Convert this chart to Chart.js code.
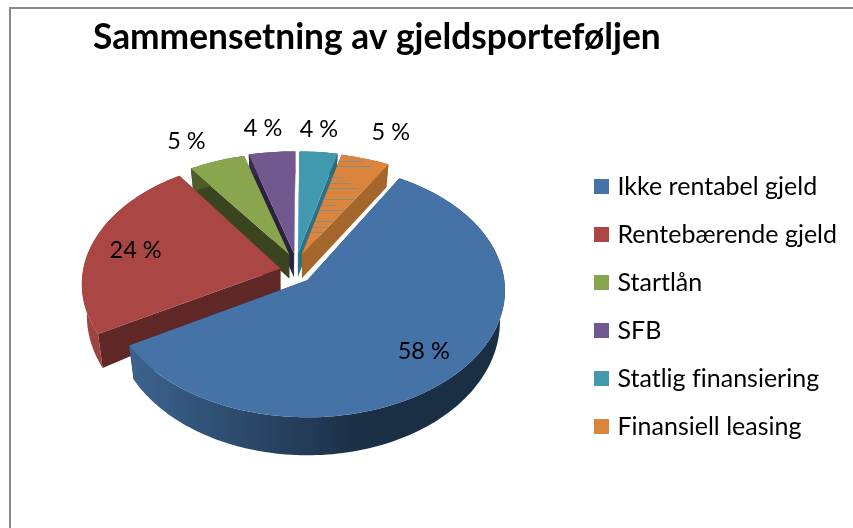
<!DOCTYPE html>
<html>
<head>
<meta charset="utf-8">
<style>
html,body{margin:0;padding:0;background:#fff;}
#wrap{position:relative;width:853px;height:528px;overflow:hidden;}
#edgeTop{position:absolute;left:10px;top:7px;right:0;height:2px;background:#8a8a8a;}
#edgeLeft{position:absolute;left:9px;top:7px;bottom:0;width:2px;background:#8a8a8a;}
canvas{position:absolute;left:0;top:0;}
</style>
<script src="https://cdn.jsdelivr.net/npm/chart.js@4"></script>
</head>
<body>
<div id="wrap">
<div id="edgeTop"></div><div id="edgeLeft"></div>
<canvas id="c" width="853" height="528"></canvas>
</div>
<script>
const categories = ['Ikke rentabel gjeld','Rentebærende gjeld','Startlån','SFB','Statlig finansiering','Finansiell leasing'];
const values = [58.4,23.7,5.3,4.4,3.6,4.6];
const sliceColors = ['#4572A7','#AA4643','#89A54E','#71588F','#4198AF','#DB843D'];
const wallColors = ['#1F3550','#5F2826','#3A4520','#2B2140','#2C7286','#A5662C'];
const rimLeft = ['#3F6794','#A04441','#5A6E30','#4A3A60','#2C6A7C','#A5662C'];
const rimRight = ['#1A2E44','#6A2D2B','#3A4520','#2B2140','#2C6A7C','#A5662C'];
const labelFactorX = [0.79,0.775,1.42,1.40,1.02,1.40];
const labelFactorY = [0.75,0.67,1.205,1.232,1.22,1.28];
const sliceRy = [126,124,118,118,118,118];
const slicePersp = [0.08,0.125,0.16,0.16,0.16,0.16];
const sliceDrop = [0,3,0,0,0,0];
const hatchIndex = 5;
const view = {cx:296, cy:269, rx:197, rimDepth:30, rimTilt:8, apexDepth:24, converge:0.975};

function pctLabel(v){ return Math.round(v) + ' %'; }

const pie3d = {
  id:'pie3d',
  beforeDraw(chart){ chart.ctx.textRendering='optimizeSpeed'; },
  afterLayout(chart){
    const lg = chart.legend;
    const w = lg.width, h = lg.height;
    lg.left = 575; lg.right = 575 + w; lg.top = 151; lg.bottom = 151 + h;
  },
  beforeDatasetDraw(chart,args){
    const ctx = chart.ctx;
    const arcs = args.meta.data;
    const slices = arcs.map((arc,i)=>{
      const p = arc.getProps(['startAngle','endAngle']);
      const a0 = p.startAngle + Math.PI/2, a1 = p.endAngle + Math.PI/2, mid = (a0+a1)/2;
      const off = arc.options.offset;
      return {i,a0,a1,mid,ax:view.cx+Math.sin(mid)*off,ay:view.cy-Math.cos(mid)*off+sliceDrop[i]};
    });
    const proj = (s,a,f)=>{
      const X=Math.sin(a)*f, Y=Math.cos(a)*f, w=1+slicePersp[s.i]*Y;
      return {x:s.ax+view.rx*X/w, y:s.ay-sliceRy[s.i]*Y/w};
    };
    const depth = a => view.rimDepth - view.rimTilt*Math.cos(a);
    const order = slices.slice().sort((s,t)=>Math.cos(t.mid)-Math.cos(s.mid));
    const rimPts = s=>{
      const n=Math.max(6,Math.ceil((s.a1-s.a0)*40)), out=[];
      for(let k=0;k<=n;k++){ const a=s.a0+(s.a1-s.a0)*k/n; out.push({a,...proj(s,a,1)}); }
      return out;
    };
    order.forEach(s=>{
      const pts=rimPts(s), ax=s.ax, ay=s.ay, i=s.i;
      const low = q => ({x:ax+(q.x-ax)*view.converge, y:q.y+depth(q.a)});
      ctx.save();
      ctx.fillStyle=wallColors[i];
      [pts[0],pts[pts.length-1]].forEach(q=>{
        const b=low(q);
        ctx.beginPath();
        ctx.moveTo(ax,ay); ctx.lineTo(q.x,q.y);
        ctx.lineTo(b.x,b.y); ctx.lineTo(ax,ay+view.apexDepth);
        ctx.closePath(); ctx.fill();
      });
      const g=ctx.createLinearGradient(ax-view.rx,0,ax+view.rx*0.3,0);
      g.addColorStop(0,rimLeft[i]); g.addColorStop(1,rimRight[i]);
      ctx.fillStyle=g;
      ctx.beginPath();
      pts.forEach((q,k)=>k?ctx.lineTo(q.x,q.y):ctx.moveTo(q.x,q.y));
      for(let k=pts.length-1;k>=0;k--){const b=low(pts[k]);ctx.lineTo(b.x,b.y);}
      ctx.closePath(); ctx.fill();
      ctx.fillStyle=sliceColors[i];
      ctx.beginPath(); ctx.moveTo(ax,ay);
      pts.forEach(q=>ctx.lineTo(q.x,q.y));
      ctx.closePath(); ctx.fill();
      if(i===hatchIndex){
        ctx.save(); ctx.clip();
        ctx.strokeStyle='rgba(65,152,175,0.55)'; ctx.lineWidth=1;
        for(let y=ay,k=0;y>ay-110;y-=5.5,k++){
          if(k%4===3) continue;
          ctx.beginPath();
          ctx.moveTo(ax+(k%3)*6,Math.round(y)+0.5);
          ctx.lineTo(ax+k*1.2+60-(k%5)*9,Math.round(y)+0.5);
          ctx.stroke();
        }
        ctx.restore();
      }
      ctx.restore();
    });
    ctx.save();
    ctx.fillStyle='#000';
    ctx.font='23.5px Lato';
    ctx.textAlign='center'; ctx.textBaseline='middle';
    slices.forEach(s=>{
      const q=proj(s,s.mid,1);
      const x=s.ax+(q.x-s.ax)*labelFactorX[s.i], y=s.ay+(q.y-s.ay)*labelFactorY[s.i];
      ctx.fillText(pctLabel(values[s.i]),x,y);
    });
    ctx.restore();
    return false;
  }
};

new Chart(document.getElementById('c'),{
  type:'pie',
  data:{labels:categories,datasets:[{data:values,backgroundColor:sliceColors,offset:16,borderWidth:0}]},
  plugins:[pie3d],
  options:{
    responsive:false,animation:false,rotation:30,
    layout:{padding:{left:93,right:0,top:0,bottom:0}},
    plugins:{
      tooltip:{enabled:false},
      title:{display:true,text:'Sammensetning av gjeldsporteføljen',align:'start',color:'#000',
        font:{family:'Lato',size:35.3,weight:'bold'},padding:{top:16,bottom:10}},
      legend:{position:'right',align:'start',
        labels:{
          color:'#000',font:{family:'Lato',size:25},boxWidth:7,boxHeight:7,padding:23,
          generateLabels(chart){
            return Chart.overrides.pie.plugins.legend.labels.generateLabels(chart).map(l=>({...l,strokeStyle:l.fillStyle,lineWidth:8}));
          }
        }}
    }
  }
});
</script>
</body>
</html>
